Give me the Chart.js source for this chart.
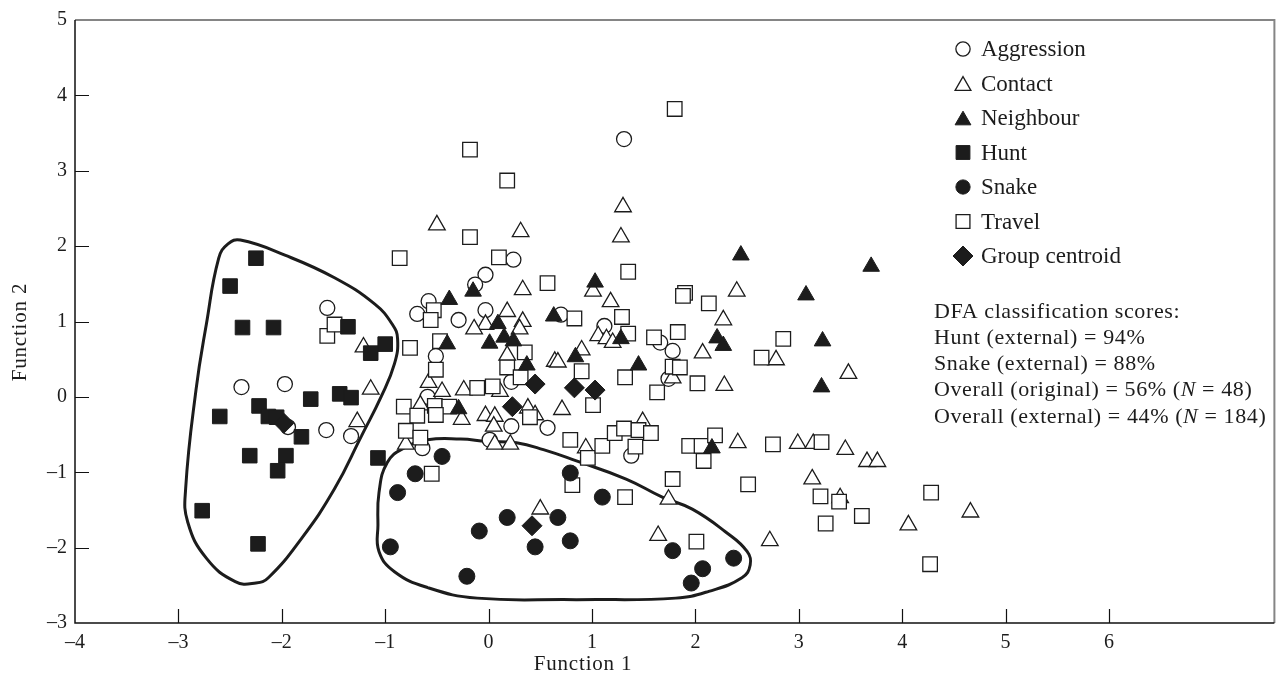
<!DOCTYPE html>
<html>
<head>
<meta charset="utf-8">
<script src="https://cdn.jsdelivr.net/npm/chart.js@4.4.1/dist/chart.umd.min.js"></script>
<style>
  html, body { margin: 0; padding: 0; background: #fff; }
</style>
</head>
<body>
<canvas id="myChart" width="1286" height="680"></canvas>
<script>
// values, [function 1, function 2]
const aggressionPts = [
  [-1.56,1.18],[-2.39,0.13],[-1.97,0.17],[-1.94,-0.40],[-1.57,-0.44],[-1.33,-0.52],
  [0.24,1.82],[-0.03,1.62],[-0.13,1.49],[-0.58,1.27],[-0.69,1.10],[-0.29,1.02],[-0.03,1.15],
  [0.70,1.09],[1.12,0.94],[-0.51,0.54],[0.22,0.20],[-0.59,0.00],[-0.64,-0.68],[0.22,-0.39],
  [0.57,-0.41],[0.01,-0.57],[1.31,3.42],[1.66,0.72],[1.78,0.61],[1.74,0.24],[1.38,-0.78]
];
const contactPts = [
  [-1.21,0.66],[-1.14,0.10],[-1.27,-0.33],[-0.50,2.28],[0.31,2.19],[1.30,2.52],[1.28,2.12],
  [0.33,1.42],[1.01,1.40],[1.18,1.26],[0.18,1.13],[-0.03,0.96],[-0.14,0.90],[0.33,1.00],[0.30,0.90],
  [1.06,0.81],[1.14,0.77],[1.20,0.72],[0.18,0.55],[0.64,0.47],[0.67,0.46],[0.90,0.62],
  [-0.58,0.19],[-0.45,0.07],[-0.24,0.09],[0.11,0.07],[-0.66,-0.11],[-0.26,-0.30],[-0.03,-0.25],[0.06,-0.26],
  [0.38,-0.15],[0.45,-0.24],[0.71,-0.17],[0.05,-0.39],[-0.80,-0.63],[0.06,-0.63],[0.21,-0.63],[0.94,-0.68],
  [0.50,-1.49],[1.74,-1.36],[1.64,-1.84],[2.72,-1.91],[2.41,-0.61],[2.40,1.40],[2.27,1.02],[2.07,0.58],
  [2.78,0.49],[1.78,0.25],[2.28,0.15],[3.48,0.31],[1.49,-0.33],[2.99,-0.62],[3.14,-0.62],[3.45,-0.70],
  [3.66,-0.86],[3.76,-0.86],[3.13,-1.09],[3.40,-1.34],[4.06,-1.70],[4.66,-1.53]
];
const neighbourPts = [
  [-0.15,1.40],[1.03,1.52],[-0.38,1.29],[0.09,0.97],[0.63,1.07],[1.28,0.77],[0.01,0.71],[0.15,0.79],
  [0.24,0.74],[-0.40,0.70],[0.84,0.53],[0.37,0.42],[-0.29,-0.16],[2.44,1.88],[3.70,1.73],[3.07,1.35],
  [2.21,0.78],[2.27,0.68],[3.23,0.74],[1.45,0.42],[3.22,0.13],[2.16,-0.68]
];
const huntPts = [
  [-2.25,1.84],[-2.50,1.47],[-2.38,0.92],[-2.08,0.92],[-1.36,0.93],[-1.00,0.70],[-1.14,0.58],
  [-1.72,-0.03],[-1.44,0.04],[-1.33,-0.01],[-2.60,-0.26],[-2.22,-0.12],[-2.13,-0.26],[-2.05,-0.27],
  [-1.81,-0.53],[-2.31,-0.78],[-1.96,-0.78],[-2.04,-0.98],[-2.77,-1.51],[-1.07,-0.81],[-2.23,-1.95]
];
const snakePts = [
  [-0.45,-0.79],[-0.71,-1.02],[-0.88,-1.27],[-0.95,-1.99],[-0.09,-1.78],[0.18,-1.60],[0.67,-1.60],
  [0.45,-1.99],[0.79,-1.91],[-0.21,-2.38],[0.79,-1.01],[1.10,-1.33],[1.78,-2.04],[2.37,-2.14],
  [2.07,-2.28],[1.96,-2.47]
];
const travelPts = [
  [-0.18,3.28],[0.18,2.87],[-0.18,2.12],[-0.86,1.84],[0.10,1.85],[1.80,3.82],[0.57,1.51],
  [-0.53,1.15],[-0.56,1.02],[0.83,1.04],[1.29,1.06],[-0.47,0.74],[-0.76,0.65],[-0.51,0.36],
  [0.18,0.39],[0.35,0.59],[0.90,0.34],[1.32,0.26],[-0.11,0.12],[0.04,0.14],[0.31,0.26],[1.01,-0.11],
  [-0.82,-0.13],[-0.52,-0.12],[-0.38,-0.13],[-0.69,-0.25],[-0.51,-0.24],[0.40,-0.27],[-0.80,-0.45],
  [-0.66,-0.54],[0.79,-0.57],[0.96,-0.81],[1.10,-0.65],[1.22,-0.48],[1.31,-0.42],[1.45,-0.44],
  [1.57,-0.48],[1.42,-0.66],[-0.55,-1.02],[0.81,-1.17],[1.32,-1.33],[1.78,-1.09],[2.01,-1.92],
  [2.51,-1.16],[1.94,-0.65],[2.06,-0.65],[2.08,-0.85],[2.19,-0.51],[2.75,-0.63],[1.35,1.66],
  [1.90,1.38],[1.88,1.34],[2.13,1.24],[1.35,0.84],[1.83,0.86],[1.60,0.79],[2.85,0.77],[2.64,0.52],
  [1.78,0.40],[1.85,0.39],[2.02,0.18],[1.63,0.06],[3.22,-0.60],[3.21,-1.32],[3.39,-1.39],[3.61,-1.58],
  [3.26,-1.68],[4.28,-1.27],[4.27,-2.22],[-1.56,0.81],[-1.49,0.96]
];
const centroidPts = [[-1.98,-0.35],[0.42,-1.71],[0.45,0.17],[0.83,0.12],[1.03,0.09],[0.23,-0.13]];

// outlines drawn round the hunt and snake clusters
const huntLoop = [
  [-1.23,-0.52],[-1.49,-1.22],[-1.81,-1.88],[-2.13,-2.40],[-2.25,-2.47],[-2.45,-2.45],[-2.73,-2.14],
  [-2.91,-1.66],[-2.93,-1.22],[-2.83,0.09],[-2.73,0.96],[-2.61,1.84],[-2.52,2.03],[-2.40,2.08],
  [-1.97,1.88],[-1.49,1.58],[-1.10,1.23],[-0.93,0.96],[-0.88,0.77],[-0.91,0.44],[-1.04,0.00],[-1.23,-0.52]
];
const snakeLoop = [
  [0.85,-2.69],[-0.11,-2.67],[-0.59,-2.53],[-0.91,-2.32],[-1.06,-2.05],[-1.07,-1.70],[-1.06,-1.27],
  [-0.98,-0.87],[-0.82,-0.68],[-0.59,-0.57],[-0.27,-0.56],[-0.02,-0.59],[0.27,-0.61],[0.53,-0.70],
  [0.85,-0.85],[1.33,-1.09],[1.68,-1.33],[1.97,-1.49],[2.29,-1.79],[2.50,-2.05],[2.53,-2.23],
  [2.45,-2.40],[2.13,-2.58],[1.81,-2.67],[0.85,-2.69]
];

const xTickMarks = [-3,-2,-1,0,1,2,3,4,5,6];
const yTickMarks = [-2,-1,0,1,2,3,4];

const legendNames = ['Aggression','Contact','Neighbour','Hunt','Snake','Travel','Group centroid'];
const legendStyles = ['circle','triangle','triangle','rect','circle','rect','rectRot'];
const legendFilled = [false,false,true,true,true,false,true];

const scoreLines = [
  ['DFA classification scores:'],
  ['Hunt (external) = 94%'],
  ['Snake (external) = 88%'],
  ['Overall (original) = 56% (', 'N', ' = 48)'],
  ['Overall (external) = 44% (', 'N', ' = 184)']
];

const serif = "'Liberation Serif', 'Times New Roman', serif";
const ink = '#1c1c1c';

function toXY(arr) {
    return arr.map(function(p) { return { x: p[0], y: p[1] }; });
}

function minusFmt(v) {
    return v < 0 ? '\u2013' + Math.abs(v) : String(v);
}

function drawMarker(ctx, style, x, y, r, filled) {
    ctx.beginPath();
    if (style === 'circle') {
        ctx.arc(x, y, r, 0, Math.PI * 2);
    } else if (style === 'triangle') {
        ctx.moveTo(x, y - r);
        ctx.lineTo(x + Math.sin(Math.PI * 2 / 3) * r, y + 0.5 * r);
        ctx.lineTo(x - Math.sin(Math.PI * 2 / 3) * r, y + 0.5 * r);
        ctx.closePath();
    } else if (style === 'rect') {
        const s = Math.SQRT1_2 * r;
        ctx.rect(x - s, y - s, 2 * s, 2 * s);
    } else {
        ctx.moveTo(x, y - r);
        ctx.lineTo(x + r, y);
        ctx.lineTo(x, y + r);
        ctx.lineTo(x - r, y);
        ctx.closePath();
    }
    ctx.fillStyle = filled ? ink : '#fff';
    ctx.fill();
    ctx.strokeStyle = ink;
    ctx.lineWidth = filled ? 1 : 1.3;
    ctx.stroke();
}

const markerSize = { circle: 7.5, triangle: 9.6, rect: 10.3, rectRot: 10 };

const decor = {
    id: 'decor',
    afterDraw(chart) {
        const ctx = chart.ctx;
        const a = chart.chartArea;
        const xs = chart.scales.x;
        const ys = chart.scales.y;
        ctx.save();

        // frame: grey top/right, black axes
        ctx.strokeStyle = '#858585';
        ctx.lineWidth = 2;
        ctx.beginPath();
        ctx.moveTo(a.left, a.top);
        ctx.lineTo(a.right, a.top);
        ctx.lineTo(a.right, a.bottom);
        ctx.stroke();
        ctx.strokeStyle = '#111';
        ctx.lineWidth = 1.5;
        ctx.beginPath();
        ctx.moveTo(a.left, a.top);
        ctx.lineTo(a.left, a.bottom);
        ctx.lineTo(a.right, a.bottom);
        ctx.stroke();

        // inward tick marks
        ctx.lineWidth = 1.2;
        ctx.beginPath();
        xTickMarks.forEach(function(v) {
            const px = Math.round(xs.getPixelForValue(v)) + 0.5;
            ctx.moveTo(px, a.bottom);
            ctx.lineTo(px, a.bottom - 14);
        });
        yTickMarks.forEach(function(v) {
            const py = Math.round(ys.getPixelForValue(v)) + 0.5;
            ctx.moveTo(a.left, py);
            ctx.lineTo(a.left + 14, py);
        });
        ctx.stroke();

        // legend
        ctx.textBaseline = 'middle';
        ctx.textAlign = 'left';
        ctx.fillStyle = ink;
        for (let i = 0; i < legendNames.length; i++) {
            const rowY = 49 + i * 34.5;
            const st = legendStyles[i];
            const r = markerSize[st] * (st === 'rectRot' ? 1.0 : 0.95);
            const my = st === 'triangle' ? rowY + r * 0.25 : rowY;
            drawMarker(ctx, st, 963, my, r, legendFilled[i]);
            ctx.fillStyle = ink;
            ctx.font = '23px ' + serif;
            ctx.letterSpacing = '0px';
            ctx.fillText(legendNames[i], 981, rowY + 1);
        }

        // classification scores
        ctx.letterSpacing = '0.6px';
        for (let i = 0; i < scoreLines.length; i++) {
            let x = 934;
            const y = 312 + i * 26.2;
            scoreLines[i].forEach(function(part, j) {
                ctx.font = (j === 1 ? 'italic ' : '') + '22px ' + serif;
                ctx.fillText(part, x, y);
                x += ctx.measureText(part).width;
            });
        }

        // axis titles
        ctx.letterSpacing = '0.8px';
        ctx.font = '21px ' + serif;
        ctx.textAlign = 'center';
        ctx.fillText('Function 1', 583, 664);
        ctx.translate(20, 332);
        ctx.rotate(-Math.PI / 2);
        ctx.fillText('Function 2', 0, 0);
        ctx.restore();
    }
};

function pointSet(label, pts, style, filled, r) {
    return {
        label: label,
        data: toXY(pts),
        pointStyle: style,
        pointRadius: r,
        pointBackgroundColor: filled ? ink : '#fff',
        pointBorderColor: ink,
        pointBorderWidth: filled ? 1 : 1.3
    };
}

function loopSet(pts) {
    return {
        data: toXY(pts),
        showLine: true,
        pointRadius: 0,
        borderColor: ink,
        borderWidth: 3,
        tension: 0.45,
        fill: false
    };
}

const ctx = document.getElementById('myChart');

new Chart(ctx, {
    type: 'scatter',
    data: {
        datasets: [
            pointSet('Group centroid', centroidPts, 'rectRot', true, 10),
            pointSet('Snake', snakePts, 'circle', true, 8),
            pointSet('Hunt', huntPts, 'rect', true, 10.3),
            pointSet('Neighbour', neighbourPts, 'triangle', true, 9.6),
            pointSet('Travel', travelPts, 'rect', false, 10.3),
            pointSet('Contact', contactPts, 'triangle', false, 9.6),
            pointSet('Aggression', aggressionPts, 'circle', false, 7.5),
            loopSet(huntLoop),
            loopSet(snakeLoop)
        ]
    },
    options: {
        responsive: false,
        animation: false,
        events: [],
        layout: { padding: { top: 13, right: 3, left: 0, bottom: 0 } },
        plugins: {
            legend: { display: false },
            tooltip: { enabled: false }
        },
        scales: {
            x: {
                type: 'linear',
                min: -4,
                max: 7.6,
                afterFit: function(s) { s.height = 57; },
                grid: { display: false, drawTicks: false },
                border: { display: false },
                ticks: {
                    stepSize: 1,
                    autoSkip: false,
                    maxRotation: 0,
                    padding: 8,
                    color: ink,
                    font: { family: serif, size: 20 },
                    callback: function(v) {
                        return Number.isInteger(v) && v <= 6 ? minusFmt(v) : null;
                    }
                }
            },
            y: {
                type: 'linear',
                min: -3,
                max: 5,
                afterFit: function(s) { s.width = 75; },
                grid: { display: false, drawTicks: false },
                border: { display: false },
                ticks: {
                    stepSize: 1,
                    autoSkip: false,
                    padding: 8,
                    color: ink,
                    font: { family: serif, size: 20 },
                    callback: function(v) {
                        return Number.isInteger(v) ? minusFmt(v) : null;
                    }
                }
            }
        }
    },
    plugins: [decor]
});
</script>
</body>
</html>
